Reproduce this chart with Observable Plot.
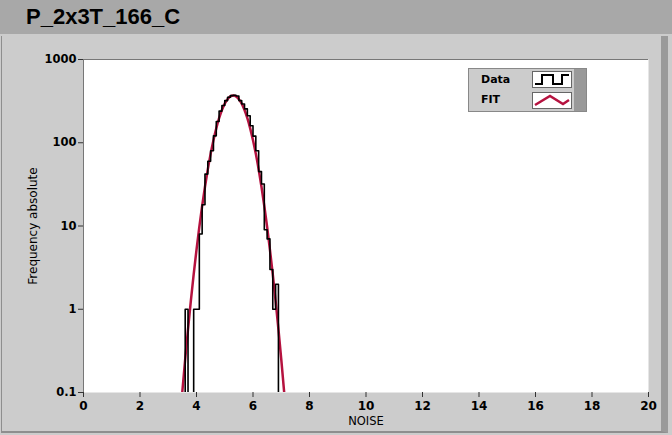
<!DOCTYPE html>
<html>
<head>
<meta charset="utf-8">
<script src="https://cdn.jsdelivr.net/npm/d3@7"></script>
<script src="https://cdn.jsdelivr.net/npm/@observablehq/plot@0.6"></script>
<style>
  html, body { margin: 0; padding: 0; background: #cccccc; }
  #wrap { position: relative; width: 672px; height: 435px; overflow: hidden; }
  #title { height: 34px; background: #a8a8a8; font-family: "Liberation Sans", Arial, sans-serif; font-weight: bold; font-size: 22px; line-height: 34px; padding-left: 26px; color: #000; box-sizing: border-box; }
  #panel { position: absolute; left: 1px; top: 36px; width: 659px; height: 395px; border-left: 1px solid #8e8e8e; border-bottom: 2px solid #8e8e8e; border-right: 7px solid #9a9a9a; pointer-events: none; }
  #legend { position: absolute; left: 468px; top: 68px; width: 119px; height: 44px; background: #cccccc; border: 1px solid #888; box-sizing: border-box; font-family: "DejaVu Sans", sans-serif; font-weight: bold; font-size: 11px; }
  #legend .row { position: absolute; left: 12px; }
  #legend svg { position: absolute; }
  #legend .bar { position: absolute; right: 0; top: 0; width: 12px; height: 42px; background: #999; }
</style>
</head>
<body>
<div id="wrap">
  <div id="title">P_2x3T_166_C</div>
  <div id="chart"></div>
  <div id="panel"></div>
  <div id="legend">
    <div class="row" style="top:4px">Data</div>
    <div class="row" style="top:24px">FIT</div>
    <svg style="left:63px;top:2px" width="40" height="17"><rect x="0.5" y="0.5" width="39" height="16" fill="white" stroke="#666"/><path d="M3,13 H10 V4 H21 V13 H30 V4 H37" fill="none" stroke="black" stroke-width="2"/></svg>
    <svg style="left:63px;top:23px" width="40" height="17"><rect x="0.5" y="0.5" width="39" height="16" fill="white" stroke="#666"/><path d="M3,13 L18,4 L31,12 L37,8" fill="none" stroke="#b5123f" stroke-width="2.5"/></svg>
    <div class="bar"></div>
  </div>
</div>
<script>
// Histogram (NOISE bins, width 0.1)
const binLeft = [3.6,3.7,3.8,3.9,4.0,4.1,4.2,4.3,4.4,4.5,4.6,4.7,4.8,4.9,5.0,5.1,5.2,5.3,5.4,5.5,5.6,5.7,5.8,5.9,6.0,6.1,6.2,6.3,6.4,6.5,6.6,6.7,6.8];
const binWidth = 0.1;
const counts  = [1,0,0,1,1,8,18,42,60,80,121,180,240,280,321,352,368,372,365,321,292,255,211,160,120,80,45,32,9,7,3,1,2];
// Gaussian fit curve
const fitX = [3.4,3.5,3.6,3.7,3.8,3.9,4.0,4.1,4.2,4.3,4.4,4.5,4.6,4.7,4.8,4.9,5.0,5.1,5.2,5.3,5.4,5.5,5.6,5.7,5.8,5.9,6.0,6.1,6.2,6.3,6.4,6.5,6.6,6.7,6.8,6.9,7.0,7.1,7.2];
const fitY = [0.041,0.104,0.251,0.576,1.26,2.62,5.18,9.75,17.4,29.6,47.9,73.5,107,149,197,247,295,334,361,370,361,334,295,247,197,149,107,73.5,47.9,29.6,17.4,9.75,5.18,2.62,1.26,0.576,0.251,0.104,0.041];
const xTicks = [0,2,4,6,8,10,12,14,16,18,20];
const yTicks = [0.1,1,10,100,1000];
const yTickLabels = ["0.1","1","10","100","1000"];

const FLOOR = 1e-3;
const step = [{x: binLeft[0], y: FLOOR}]
  .concat(binLeft.map((x, i) => ({x, y: counts[i] > 0 ? counts[i] : FLOOR})))
  .concat([{x: binLeft[binLeft.length - 1] + binWidth, y: FLOOR}]);
const fit = fitX.map((x, i) => ({x, y: fitY[i]}));

const chart = Plot.plot({
  width: 672,
  height: 401,
  marginLeft: 83,
  marginRight: 24,
  marginTop: 25,
  marginBottom: 43,
  style: {background: "#cccccc", fontFamily: "DejaVu Sans, sans-serif", fontSize: "11px", color: "black"},
  x: {domain: [0, 20]},
  y: {type: "log", domain: [0.1, 1000]},
  marks: [
    Plot.frame({fill: "white"}),
    Plot.ruleX([0], {stroke: "#777", strokeWidth: 1}),
    Plot.ruleY([1000], {stroke: "#777", strokeWidth: 1}),
    Plot.axisX({ticks: xTicks, tickSize: 5, tickPadding: 4, fontWeight: "bold", fontSize: 12, label: null, stroke: "#333"}),
    Plot.axisY({ticks: yTicks, tickSize: 5, tickPadding: 2, fontWeight: "bold", fontSize: 11.5, label: null, tickFormat: d => yTickLabels[yTicks.indexOf(d)], stroke: "#333"}),
    Plot.lineY(fit, {x: "x", y: "y", stroke: "#b5123f", strokeWidth: 2.5, curve: "natural", clip: true}),
    Plot.lineY(step, {x: "x", y: "y", stroke: "black", strokeWidth: 1.6, curve: "step-after", clip: true}),
    Plot.text(["NOISE"], {frameAnchor: "bottom", dy: 32, fontSize: 11.5}),
    Plot.text(["Frequency absolute"], {frameAnchor: "left", textAnchor: "middle", rotate: -90, dx: -50, fontSize: 12})
  ]
});
document.getElementById("chart").appendChild(chart);
</script>
</body>
</html>
